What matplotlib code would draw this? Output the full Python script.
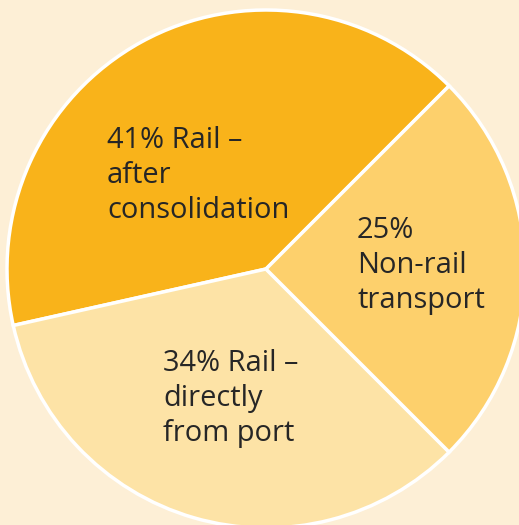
import matplotlib.pyplot as plt

# data
shares = [41, 34, 25]
labels = [
    ["41% Rail \u2013", "after", "consolidation"],
    ["34% Rail \u2013", "directly", "from port"],
    ["25%", "Non-rail", "transport"],
]
colors = ["#F9B31A", "#FDE3A6", "#FDD06C"]

# label anchors (pixel coords from top-left: x, first baseline)
label_pos = [(107, 148), (163, 371), (357, 238)]
line_step = 35

W, H = 519, 525
fig = plt.figure(figsize=(W / 100, H / 100), dpi=100)
fig.patch.set_facecolor("#FDEFD6")
ax = fig.add_axes([0, 0, 1, 1])
ax.set_xlim(0, W)
ax.set_ylim(0, H)
ax.axis("off")

ax.pie(shares, colors=colors, startangle=45, counterclock=True,
       center=(266, H - 269), radius=259,
       wedgeprops=dict(edgecolor="white", linewidth=2.5),
       frame=True)
ax.set_xlim(0, W)
ax.set_ylim(0, H)
ax.axis("off")

for lines, (x, y0) in zip(labels, label_pos):
    for i, line in enumerate(lines):
        ax.text(x, H - (y0 + i * line_step), line, ha="left", va="baseline",
                fontsize=20.9, family="Open Sans", color="#262626")

plt.savefig("out.png", dpi=100, facecolor=fig.get_facecolor())
